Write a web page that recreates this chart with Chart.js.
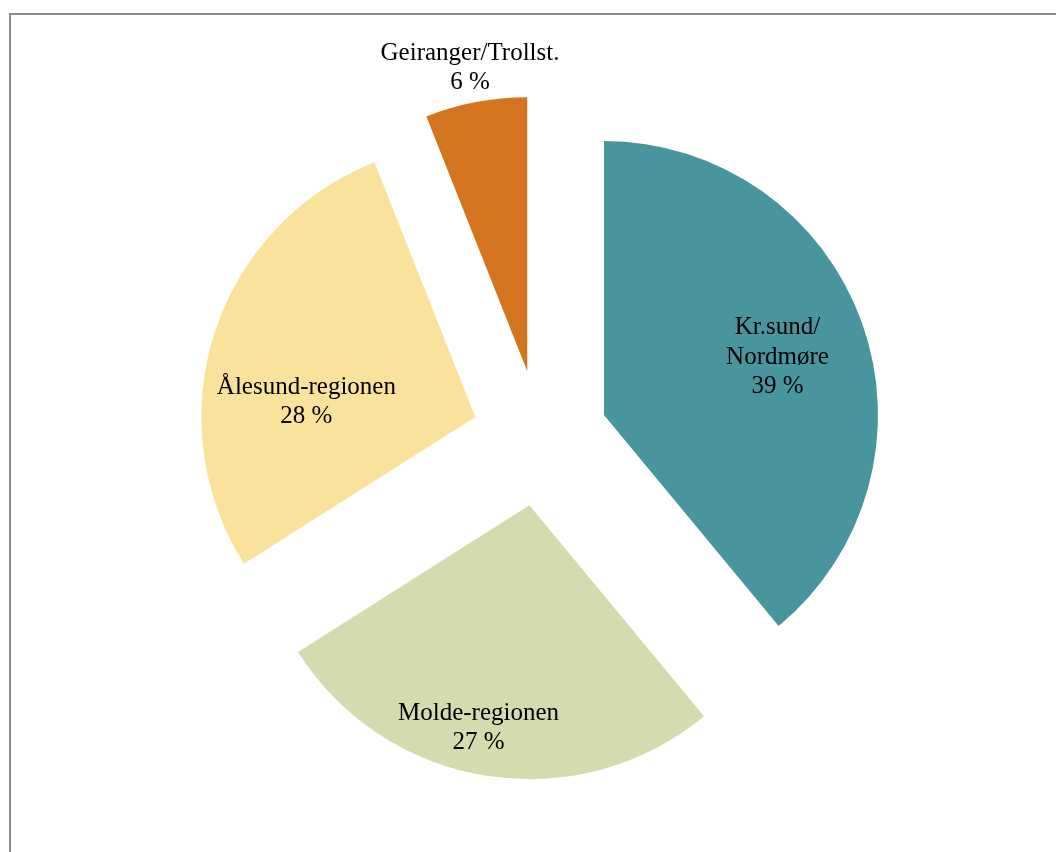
<!DOCTYPE html>
<html><head><meta charset="utf-8">
<script src="https://cdn.jsdelivr.net/npm/chart.js@4.4.0/dist/chart.umd.min.js"></script>
<style>html,body{margin:0;padding:0;background:#fff;overflow:hidden}#wrap{position:relative;width:1056px;height:852px}</style>
</head><body><div id="wrap"><canvas id="c" width="1056" height="852"></canvas></div>
<script>
// ---- data ----
const categories = [["Kr.sund/", "Nordmøre"], ["Molde-regionen"], ["Ålesund-regionen"], ["Geiranger/Trollst."]];
const shares = [39, 27, 28, 6];

// ---- styling / placement (not data) ----
const sliceColors = ["#48959E", "#D5DAAF", "#F9E39C", "#D4741E"];
const EXPLODE = 68;
const RADIUS = 274;
const labelPlacement = [
  { frac: 0.67, turnDeg: 0.7 },
  { frac: 0.825, turnDeg: 4 },
  { frac: 0.62, turnDeg: -12 },
  { frac: 1.136, turnDeg: 0.2 }
];
const LABEL_FONT = '25px "Liberation Serif", "Times New Roman", serif';
const LINE_H = 29.5;
const TEXT_DY = 2.5;

const framePlugin = {
  id: 'frame',
  beforeDraw(chart) {
    const ctx = chart.ctx;
    ctx.save();
    ctx.strokeStyle = '#8a8a8a';
    ctx.lineWidth = 2;
    ctx.beginPath();
    ctx.moveTo(10, chart.height);
    ctx.lineTo(10, 14);
    ctx.lineTo(chart.width, 14);
    ctx.stroke();
    ctx.restore();
  }
};

const explodePlugin = {
  id: 'explode',
  afterDatasetsUpdate(chart) {
    const ca = chart.chartArea;
    const cx = (ca.left + ca.right) / 2, cy = (ca.top + ca.bottom) / 2;
    chart.getDatasetMeta(0).data.forEach(el => {
      const mid = (el.startAngle + el.endAngle) / 2;
      el.x = cx + Math.cos(mid) * EXPLODE;
      el.y = cy + Math.sin(mid) * EXPLODE;
    });
  }
};

const labelPlugin = {
  id: 'sliceLabels',
  afterDatasetsDraw(chart) {
    const ctx = chart.ctx;
    const data = chart.data.datasets[0].data;
    const total = data.reduce((a, b) => a + b, 0);
    ctx.save();
    ctx.font = LABEL_FONT;
    ctx.fillStyle = '#000';
    ctx.textAlign = 'center';
    ctx.textBaseline = 'middle';
    chart.getDatasetMeta(0).data.forEach((el, i) => {
      const p = labelPlacement[i];
      const ang = (el.startAngle + el.endAngle) / 2 + p.turnDeg * Math.PI / 180;
      const r = el.outerRadius * p.frac;
      const x = el.x + Math.cos(ang) * r;
      const y = el.y + Math.sin(ang) * r + TEXT_DY;
      const cat = chart.data.labels[i];
      const lines = (Array.isArray(cat) ? cat : [cat]).concat([Math.round(data[i] / total * 100) + ' %']);
      const y0 = y - (lines.length - 1) * LINE_H / 2;
      lines.forEach((t, k) => ctx.fillText(t, x, y0 + k * LINE_H));
    });
    ctx.restore();
  }
};

new Chart(document.getElementById('c'), {
  type: 'pie',
  data: {
    labels: categories,
    datasets: [{
      data: shares,
      backgroundColor: sliceColors,
      borderWidth: 0,
      offset: 0
    }]
  },
  options: {
    responsive: false,
    animation: false,
    events: [],
    radius: RADIUS,
    layout: { padding: { left: 24, top: 24, right: 0, bottom: 0 } },
    plugins: { legend: { display: false }, tooltip: { enabled: false } }
  },
  plugins: [framePlugin, explodePlugin, labelPlugin]
});
</script>
</body></html>
